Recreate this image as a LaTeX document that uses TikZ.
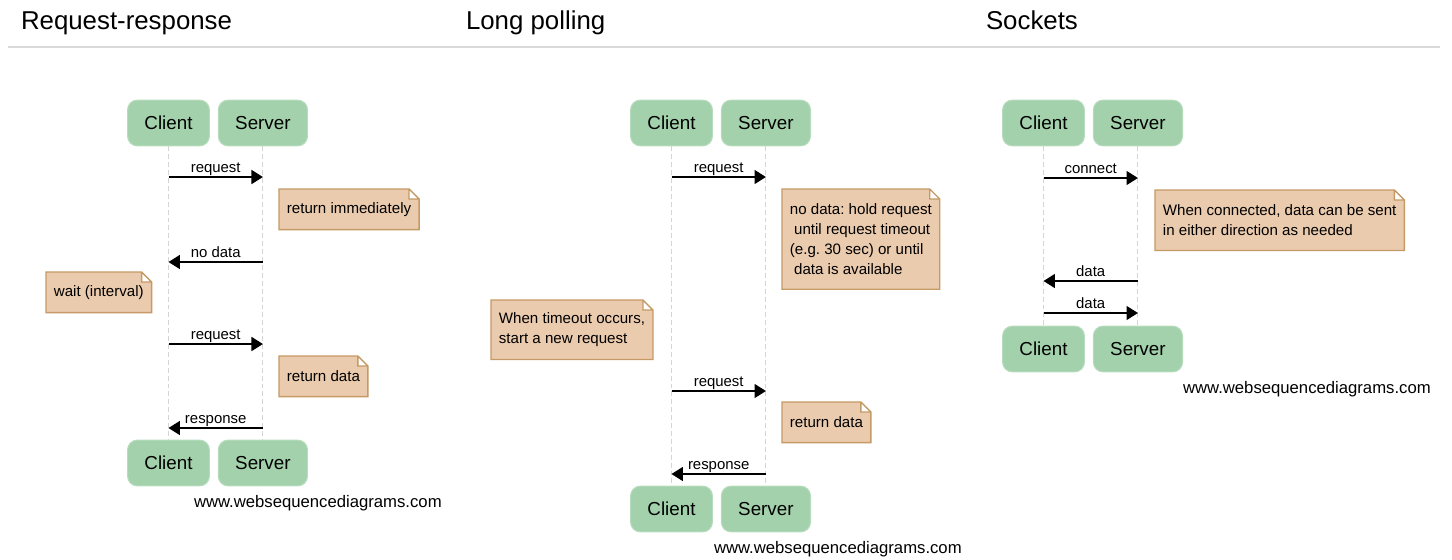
\documentclass[tikz,border=0pt]{standalone}
\usepackage{fontspec}
\setmainfont{Liberation Sans}
\usetikzlibrary{arrows.meta,positioning,backgrounds}
\definecolor{actorfill}{HTML}{A3D1AC}
\definecolor{actordraw}{HTML}{B6DCBD}
\definecolor{notefill}{HTML}{EBCBAE}
\definecolor{notedraw}{HTML}{C49A66}
\definecolor{lifegray}{HTML}{D4D4D4}
\definecolor{rulegray}{HTML}{DADADA}
\frenchspacing

\begin{document}
\begin{tikzpicture}[x=0.02cm, y=-0.02cm,
	actor/.style={rectangle, rounded corners=5.5pt, fill=actorfill, draw=actordraw, line width=0.6pt, inner xsep=9.6pt, minimum height=26pt, font=\fontsize{10.7}{12}\selectfont},
	life/.style={draw=lifegray, line width=0.6pt, dash pattern=on 2.8pt off 1.7pt},
	msg/.style={line width=0.75pt, -{Triangle[length=6.5pt,width=8pt]}},
	lbl/.style={anchor=base, inner sep=0pt, yshift=2.4pt, font=\fontsize{8.5}{10}\selectfont},
	note/.style={anchor=north west, align=left, inner xsep=4.3pt, minimum height=22.7pt, font=\fontsize{8.6}{11.4}\selectfont},
	notebox/.style={fill=notefill, draw=notedraw, line width=0.75pt},
	title/.style={anchor=base west, inner sep=0pt, outer sep=0pt, font=\fontsize{14.7}{17}\selectfont},
	wsd/.style={anchor=west, inner sep=0pt, outer sep=0pt, font=\fontsize{9.5}{11}\selectfont}]
	\useasboundingbox (0,0) rectangle (1452,559);
	\node[title] (t1) at (21,29) {Request-response};
	\node[title] (t2) at (466,29) {Long polling};
	\node[title] (t3) at (986,29) {Sockets};
	\draw[rulegray, line width=0.9pt] (8,47) -- (1440,47);

	\node[actor] (c1) at (168.5,123) {Client};
	\node[actor, right=4.5pt of c1] (s1) {Server};
	\node[actor] (c1b) at (168.5,463) {Client};
	\node[actor, right=4.5pt of c1b] (s1b) {Server};
	\node[actor] (c2) at (671.5,123) {Client};
	\node[actor, right=4.5pt of c2] (s2) {Server};
	\node[actor] (c2b) at (671.5,509) {Client};
	\node[actor, right=4.5pt of c2b] (s2b) {Server};
	\node[actor] (c3) at (1043.5,123) {Client};
	\node[actor, right=4.5pt of c3] (s3) {Server};
	\node[actor] (c3b) at (1043.5,349) {Client};
	\node[actor, right=4.5pt of c3b] (s3b) {Server};

	\foreach \a/\b in {c1/c1b,s1/s1b,c2/c2b,s2/s2b,c3/c3b,s3/s3b}
		\draw[life] (\a.south) -- (\b.north);

	\node[note] (n1) at (279,189) {return immediately};
	\node[note] (n2) at (46,272) {wait (interval)};
	\node[note] (n3) at (279,356) {return data};
	\node[note, minimum height=56.7pt] (n4) at (782,189) {no data: hold request\\\ until request timeout\\(e.g. 30 sec) or until\\\ data is available};
	\node[note, minimum height=33.5pt] (n5) at (491,300) {When timeout occurs,\\start a new request};
	\node[note] (n6) at (782,402) {return data};
	\node[note, minimum height=34pt] (n7) at (1155,190) {When connected, data can be sent\\in either direction as needed};
	\begin{scope}[on background layer]
		\foreach \n in {n1,n2,n3,n4,n5,n6,n7}
			\draw[notebox] (\n.south west) -- (\n.north west) -- ([xshift=-5.7pt]\n.north east) -- ([yshift=-5.7pt]\n.north east) -- (\n.south east) -- cycle ([xshift=-5.7pt]\n.north east) |- ([yshift=-5.7pt]\n.north east);
	\end{scope}

	\draw[msg] (c1 |- 0,177) -- node[lbl] {request} (s1 |- 0,177);
	\draw[msg] (s1 |- 0,262) -- node[lbl] {no data} (c1 |- 0,262);
	\draw[msg] (c1 |- 0,344) -- node[lbl] {request} (s1 |- 0,344);
	\draw[msg] (s1 |- 0,428) -- node[lbl] {response} (c1 |- 0,428);

	\draw[msg] (c2 |- 0,177) -- node[lbl] {request} (s2 |- 0,177);
	\draw[msg] (c2 |- 0,391) -- node[lbl] {request} (s2 |- 0,391);
	\draw[msg] (s2 |- 0,474) -- node[lbl] {response} (c2 |- 0,474);

	\draw[msg] (c3 |- 0,178) -- node[lbl] {connect} (s3 |- 0,178);
	\draw[msg] (s3 |- 0,281) -- node[lbl] {data} (c3 |- 0,281);
	\draw[msg] (c3 |- 0,313) -- node[lbl] {data} (s3 |- 0,313);

	\node[wsd] (w1) at (194,503) {www.websequencediagrams.com};
	\node[wsd] (w2) at (714,549) {www.websequencediagrams.com};
	\node[wsd] (w3) at (1183,389) {www.websequencediagrams.com};
\end{tikzpicture}
\end{document}
